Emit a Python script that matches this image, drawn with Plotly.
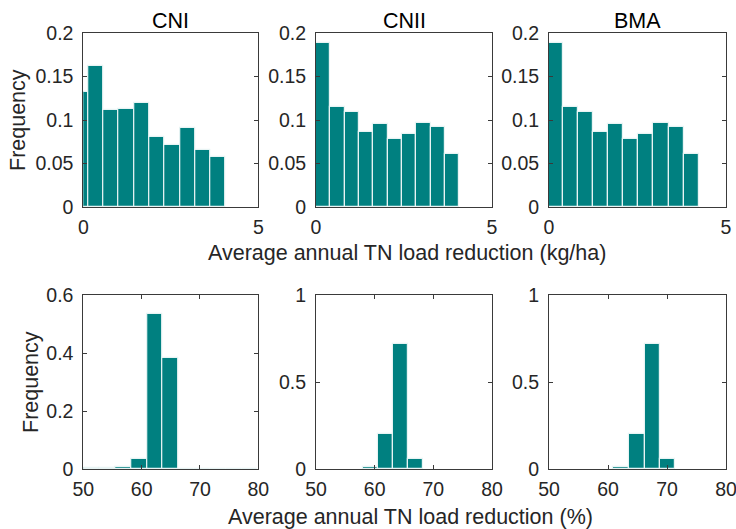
import plotly.graph_objects as go

# ---------------- data ----------------
panel_titles = ["CNI", "CNII", "BMA"]

# Top row: average annual TN load reduction (kg/ha)
kg_cni_edges = [-0.30, 0.13, 0.57, 1.01, 1.45, 1.88, 2.32, 2.76, 3.20, 3.63, 4.07]
kg_cni_freq = [0.132, 0.162, 0.1115, 0.113, 0.120, 0.080, 0.071, 0.091, 0.066, 0.058]

kg_cnii_edges = [0.0, 0.41, 0.81, 1.22, 1.63, 2.04, 2.44, 2.85, 3.26, 3.67, 4.07]
kg_cnii_freq = [0.189, 0.1146, 0.109, 0.086, 0.095, 0.0785, 0.084, 0.096, 0.092, 0.061]

kg_bma_edges = [0.0, 0.40, 0.82, 1.25, 1.67, 2.10, 2.52, 2.95, 3.38, 3.81, 4.23]
kg_bma_freq = [0.189, 0.1146, 0.109, 0.086, 0.095, 0.0785, 0.084, 0.096, 0.092, 0.061]

# Bottom row: average annual TN load reduction (%)
pct_cni_edges = [50.0, 52.7, 55.4, 58.2, 60.9, 63.6, 66.3, 69.1, 71.8, 74.5, 77.2, 79.9]
pct_cni_freq = [0.004, 0.002, 0.008, 0.033, 0.536, 0.382, 0.001, 0.001, 0.001, 0.001, 0.001]

pct_cnii_edges = [58.0, 60.5, 63.1, 65.6, 68.2]
pct_cnii_freq = [0.0115, 0.203, 0.716, 0.059]

pct_bma_edges = [60.9, 63.5, 66.2, 68.8, 71.4]
pct_bma_freq = [0.0115, 0.203, 0.716, 0.059]

top_xticks = [0, 5]
top_yticks = [0, 0.05, 0.1, 0.15, 0.2]
top_yticklabels = ["0", "0.05", "0.1", "0.15", "0.2"]
bot_xticks = [50, 60, 70, 80]
bot_cni_yticks = [0, 0.2, 0.4, 0.6]
bot_yticks = [0, 0.5, 1]

x_title_top = "Average annual TN load reduction (kg/ha)"
x_title_bot = "Average annual TN load reduction (%)"
y_title = "Frequency"

# ---------------- styling / layout ----------------
W, H = 736, 529
BAR = "#008080"
AX = "#3a3a3a"
FONT = "Arial, Liberation Sans, Helvetica, sans-serif"
FS_TICK = 19.5
FS_LAB = 21.5

def px_x(a, b):
    return [a / W, b / W]

def px_y(top, bottom):
    return [1 - bottom / H, 1 - top / H]

col_x = [px_x(83.3, 258.3), px_x(316, 492), px_x(549, 726)]
row_y = [px_y(33, 207), px_y(295, 469)]

panels = [
    (kg_cni_edges, kg_cni_freq, 0, 0),
    (kg_cnii_edges, kg_cnii_freq, 0, 1),
    (kg_bma_edges, kg_bma_freq, 0, 2),
    (pct_cni_edges, pct_cni_freq, 1, 0),
    (pct_cnii_edges, pct_cnii_freq, 1, 1),
    (pct_bma_edges, pct_bma_freq, 1, 2),
]

fig = go.Figure()
layout = dict(
    width=W, height=H,
    margin=dict(l=0, r=0, t=0, b=0, autoexpand=False),
    paper_bgcolor="white", plot_bgcolor="white",
    showlegend=False,
    bargap=0,
    font=dict(family=FONT, size=FS_TICK, color="#262626"),
)

for i, (edges, freq, r, c) in enumerate(panels):
    n = i + 1
    centers = [(edges[k] + edges[k + 1]) / 2 for k in range(len(freq))]
    widths = [edges[k + 1] - edges[k] for k in range(len(freq))]
    xa = "x" if n == 1 else f"x{n}"
    ya = "y" if n == 1 else f"y{n}"
    fig.add_trace(go.Bar(
        x=centers, y=freq, width=widths,
        marker=dict(color=BAR, line=dict(color="#e8f4f4", width=1.2)),
        xaxis=xa, yaxis=ya, hoverinfo="x+y",
    ))
    if r == 0:
        xr, xt = [0, 5], top_xticks
        yr, yt, ytl = [0, 0.2], top_yticks, top_yticklabels
    else:
        xr, xt = [50, 80], bot_xticks
        if c == 0:
            yr, yt, ytl = [0, 0.6], bot_cni_yticks, [str(v) for v in bot_cni_yticks]
        else:
            yr, yt, ytl = [0, 1], bot_yticks, ["0", "0.5", "1"]
    common = dict(
        showline=True, linecolor=AX, linewidth=1, mirror="ticks",
        ticks="inside", ticklen=4, tickcolor=AX, tickwidth=1,
        showgrid=False, zeroline=False, automargin=False,
        tickfont=dict(family=FONT, size=FS_TICK, color="#262626"),
        fixedrange=True, ticklabeloverflow="allow",
    )
    layout["xaxis" if n == 1 else f"xaxis{n}"] = dict(
        common, domain=col_x[c], range=xr, tickvals=xt,
        ticktext=[str(v) for v in xt],
        anchor=ya, ticklabelstandoff=3,
    )
    layout["yaxis" if n == 1 else f"yaxis{n}"] = dict(
        common, domain=row_y[r], range=yr, tickvals=yt, ticktext=ytl,
        anchor=xa, ticklabelstandoff=5,
    )

annotations = []
for c, t in enumerate(panel_titles):
    annotations.append(dict(
        text=t, x=(col_x[c][0] + col_x[c][1]) / 2, y=1 - 21 / H,
        xref="paper", yref="paper", showarrow=False,
        xanchor="center", yanchor="middle",
        font=dict(family=FONT, size=FS_LAB, color="black"),
    ))
annotations.append(dict(
    text=x_title_top, x=407 / W, y=1 - 253 / H, xref="paper", yref="paper",
    showarrow=False, xanchor="center", yanchor="middle",
    font=dict(family=FONT, size=FS_LAB, color="#262626"),
))
annotations.append(dict(
    text=x_title_bot, x=410 / W, y=1 - 517 / H, xref="paper", yref="paper",
    showarrow=False, xanchor="center", yanchor="middle",
    font=dict(family=FONT, size=FS_LAB, color="#262626"),
))
annotations.append(dict(
    text=y_title, x=18 / W, y=1 - 120 / H, xref="paper", yref="paper",
    showarrow=False, xanchor="center", yanchor="middle", textangle=-90,
    font=dict(family=FONT, size=FS_LAB, color="#262626"),
))
annotations.append(dict(
    text=y_title, x=31 / W, y=1 - 382 / H, xref="paper", yref="paper",
    showarrow=False, xanchor="center", yanchor="middle", textangle=-90,
    font=dict(family=FONT, size=FS_LAB, color="#262626"),
))
layout["annotations"] = annotations

fig.update_layout(**layout)
fig.write_html(
    "out.html",
    config={"displayModeBar": False},
    post_script="document.body.style.margin='0';document.body.style.padding='0';",
)
